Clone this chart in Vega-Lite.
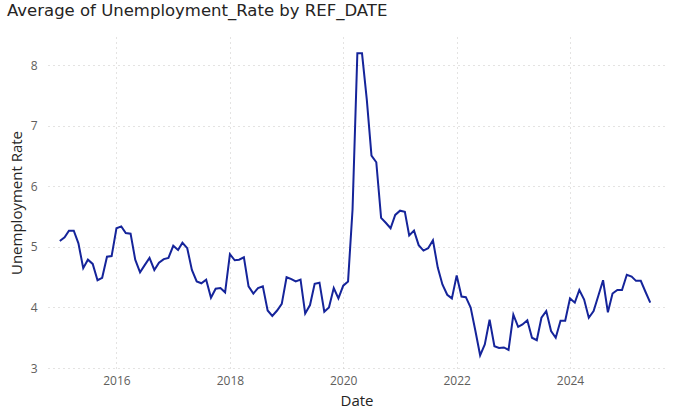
{
  "$schema": "https://vega.github.io/schema/vega-lite/v6.json",
  "width": 617,
  "height": 331,
  "autosize": {"type": "none"},
  "padding": {"left": 48, "top": 37, "right": 13, "bottom": 44},
  "background": "white",
  "title": {
    "text": "Average of Unemployment_Rate by REF_DATE",
    "anchor": "start",
    "frame": "group",
    "dx": -41,
    "offset": 5,
    "baseline": "alphabetic",
    "font": "DejaVu Sans",
    "fontSize": 16.5,
    "fontWeight": "normal",
    "color": "#252423"
  },
  "config": {
    "view": {"stroke": null},
    "axis": {
      "labelFont": "Segoe UI, Open Sans, sans-serif",
      "titleFont": "Segoe UI, Open Sans, sans-serif",
      "labelColor": "#605E5C",
      "titleColor": "#252423",
      "labelFontSize": 12,
      "titleFontSize": 15,
      "titleFontWeight": "normal",
      "ticks": false,
      "domain": false,
      "gridColor": "#C8C6C4",
      "gridDash": [1, 4],
      "gridWidth": 1
    }
  },
  "data": {
    "values": [
      {"date": "2015-01-01", "rate": 5.10}, {"date": "2015-02-01", "rate": 5.16}, {"date": "2015-03-01", "rate": 5.27}, {"date": "2015-04-01", "rate": 5.27},
      {"date": "2015-05-01", "rate": 5.06}, {"date": "2015-06-01", "rate": 4.65}, {"date": "2015-07-01", "rate": 4.79}, {"date": "2015-08-01", "rate": 4.72},
      {"date": "2015-09-01", "rate": 4.45}, {"date": "2015-10-01", "rate": 4.49}, {"date": "2015-11-01", "rate": 4.84}, {"date": "2015-12-01", "rate": 4.85},
      {"date": "2016-01-01", "rate": 5.31}, {"date": "2016-02-01", "rate": 5.34}, {"date": "2016-03-01", "rate": 5.23}, {"date": "2016-04-01", "rate": 5.22},
      {"date": "2016-05-01", "rate": 4.79}, {"date": "2016-06-01", "rate": 4.58}, {"date": "2016-07-01", "rate": 4.70}, {"date": "2016-08-01", "rate": 4.82},
      {"date": "2016-09-01", "rate": 4.62}, {"date": "2016-10-01", "rate": 4.74}, {"date": "2016-11-01", "rate": 4.80}, {"date": "2016-12-01", "rate": 4.82},
      {"date": "2017-01-01", "rate": 5.02}, {"date": "2017-02-01", "rate": 4.95}, {"date": "2017-03-01", "rate": 5.07}, {"date": "2017-04-01", "rate": 4.98},
      {"date": "2017-05-01", "rate": 4.62}, {"date": "2017-06-01", "rate": 4.43}, {"date": "2017-07-01", "rate": 4.40}, {"date": "2017-08-01", "rate": 4.46},
      {"date": "2017-09-01", "rate": 4.16}, {"date": "2017-10-01", "rate": 4.31}, {"date": "2017-11-01", "rate": 4.32}, {"date": "2017-12-01", "rate": 4.25},
      {"date": "2018-01-01", "rate": 4.88}, {"date": "2018-02-01", "rate": 4.78}, {"date": "2018-03-01", "rate": 4.79}, {"date": "2018-04-01", "rate": 4.83},
      {"date": "2018-05-01", "rate": 4.35}, {"date": "2018-06-01", "rate": 4.23}, {"date": "2018-07-01", "rate": 4.32}, {"date": "2018-08-01", "rate": 4.35},
      {"date": "2018-09-01", "rate": 3.95}, {"date": "2018-10-01", "rate": 3.86}, {"date": "2018-11-01", "rate": 3.95}, {"date": "2018-12-01", "rate": 4.06},
      {"date": "2019-01-01", "rate": 4.50}, {"date": "2019-02-01", "rate": 4.47}, {"date": "2019-03-01", "rate": 4.43}, {"date": "2019-04-01", "rate": 4.46},
      {"date": "2019-05-01", "rate": 3.90}, {"date": "2019-06-01", "rate": 4.04}, {"date": "2019-07-01", "rate": 4.39}, {"date": "2019-08-01", "rate": 4.41},
      {"date": "2019-09-01", "rate": 3.93}, {"date": "2019-10-01", "rate": 4.00}, {"date": "2019-11-01", "rate": 4.32}, {"date": "2019-12-01", "rate": 4.15},
      {"date": "2020-01-01", "rate": 4.36}, {"date": "2020-02-01", "rate": 4.43}, {"date": "2020-03-01", "rate": 5.62}, {"date": "2020-04-01", "rate": 8.20},
      {"date": "2020-05-01", "rate": 8.20}, {"date": "2020-06-01", "rate": 7.43}, {"date": "2020-07-01", "rate": 6.51}, {"date": "2020-08-01", "rate": 6.40},
      {"date": "2020-09-01", "rate": 5.48}, {"date": "2020-10-01", "rate": 5.40}, {"date": "2020-11-01", "rate": 5.31}, {"date": "2020-12-01", "rate": 5.53},
      {"date": "2021-01-01", "rate": 5.60}, {"date": "2021-02-01", "rate": 5.58}, {"date": "2021-03-01", "rate": 5.19}, {"date": "2021-04-01", "rate": 5.27},
      {"date": "2021-05-01", "rate": 5.03}, {"date": "2021-06-01", "rate": 4.94}, {"date": "2021-07-01", "rate": 4.98}, {"date": "2021-08-01", "rate": 5.11},
      {"date": "2021-09-01", "rate": 4.66}, {"date": "2021-10-01", "rate": 4.38}, {"date": "2021-11-01", "rate": 4.21}, {"date": "2021-12-01", "rate": 4.15},
      {"date": "2022-01-01", "rate": 4.53}, {"date": "2022-02-01", "rate": 4.18}, {"date": "2022-03-01", "rate": 4.17}, {"date": "2022-04-01", "rate": 4.00},
      {"date": "2022-05-01", "rate": 3.62}, {"date": "2022-06-01", "rate": 3.21}, {"date": "2022-07-01", "rate": 3.39}, {"date": "2022-08-01", "rate": 3.80},
      {"date": "2022-09-01", "rate": 3.36}, {"date": "2022-10-01", "rate": 3.33}, {"date": "2022-11-01", "rate": 3.34}, {"date": "2022-12-01", "rate": 3.30},
      {"date": "2023-01-01", "rate": 3.88}, {"date": "2023-02-01", "rate": 3.68}, {"date": "2023-03-01", "rate": 3.72}, {"date": "2023-04-01", "rate": 3.79},
      {"date": "2023-05-01", "rate": 3.50}, {"date": "2023-06-01", "rate": 3.46}, {"date": "2023-07-01", "rate": 3.83}, {"date": "2023-08-01", "rate": 3.94},
      {"date": "2023-09-01", "rate": 3.61}, {"date": "2023-10-01", "rate": 3.50}, {"date": "2023-11-01", "rate": 3.78}, {"date": "2023-12-01", "rate": 3.78},
      {"date": "2024-01-01", "rate": 4.15}, {"date": "2024-02-01", "rate": 4.08}, {"date": "2024-03-01", "rate": 4.29}, {"date": "2024-04-01", "rate": 4.13},
      {"date": "2024-05-01", "rate": 3.83}, {"date": "2024-06-01", "rate": 3.94}, {"date": "2024-07-01", "rate": 4.19}, {"date": "2024-08-01", "rate": 4.45},
      {"date": "2024-09-01", "rate": 3.92}, {"date": "2024-10-01", "rate": 4.23}, {"date": "2024-11-01", "rate": 4.29}, {"date": "2024-12-01", "rate": 4.29},
      {"date": "2025-01-01", "rate": 4.54}, {"date": "2025-02-01", "rate": 4.51}, {"date": "2025-03-01", "rate": 4.44}, {"date": "2025-04-01", "rate": 4.44},
      {"date": "2025-05-01", "rate": 4.26}, {"date": "2025-06-01", "rate": 4.08}
    ]
  },
  "mark": {"type": "line", "color": "#15249A", "strokeWidth": 2, "strokeJoin": "miter"},
  "encoding": {
    "x": {
      "field": "date",
      "type": "temporal",
      "title": "Date",
      "scale": {"type": "utc", "domain": ["2014-10-17", "2025-09-04"]},
      "axis": {
        "tickCount": {"interval": "year", "step": 2},
        "format": "%Y",
        "formatType": "utc",
        "labelPadding": 7,
        "titleY": 32,
        "titleBaseline": "middle",
        "labelFlush": false
      }
    },
    "y": {
      "field": "rate",
      "type": "quantitative",
      "title": "Unemployment Rate",
      "scale": {"domain": [3, 8.47], "nice": false, "zero": false},
      "axis": {
        "values": [3, 4, 5, 6, 7, 8],
        "labelPadding": 11,
        "titleX": -32,
        "titleBaseline": "middle"
      }
    }
  }
}
